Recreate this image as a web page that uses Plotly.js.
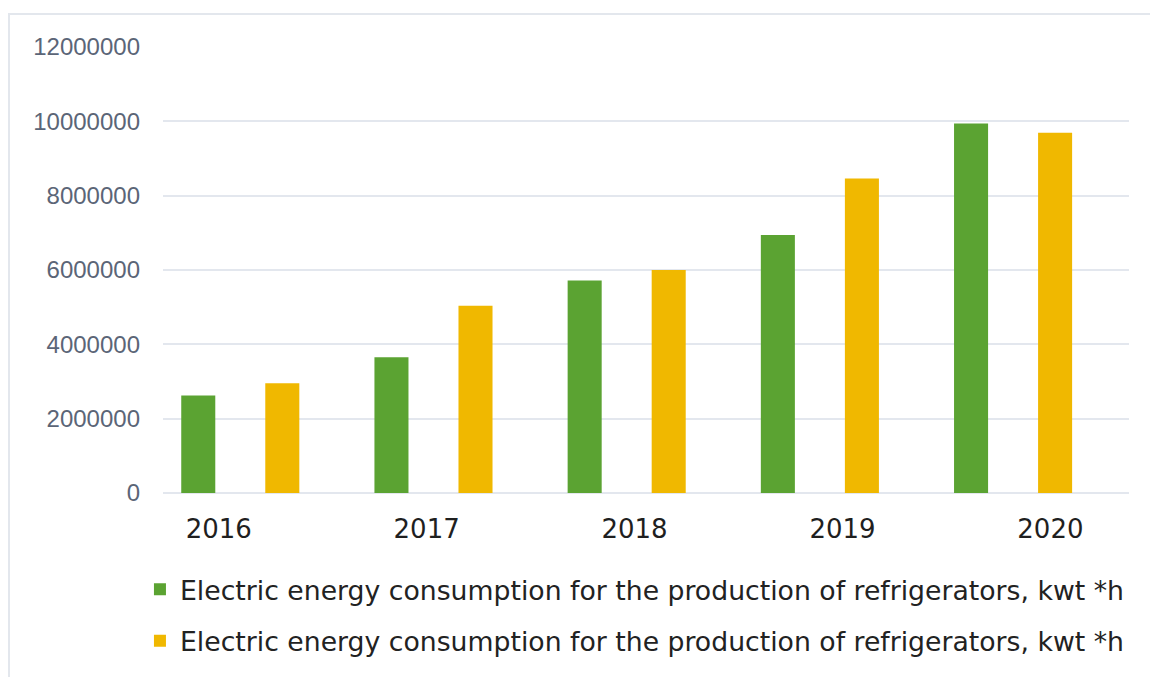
<!DOCTYPE html>
<html>
<head>
<meta charset="utf-8">
<script src="https://cdn.plot.ly/plotly-3.0.1.min.js"></script>
<style>
  html, body { margin: 0; padding: 0; background: #ffffff; }
  #wrap { position: relative; width: 1150px; height: 677px; overflow: hidden; }
  #frame { position: absolute; left: 8px; top: 13px; width: 1200px; height: 700px;
           border-left: 2px solid #e3e7ed; border-top: 2px solid #e3e7ed; pointer-events: none; }
  #chart { position: absolute; left: 0; top: 0; width: 1150px; height: 677px; }
</style>
</head>
<body>
<div id="wrap">
  <div id="chart"></div>
  <div id="frame"></div>
</div>
<script>
const years = ["2016", "2017", "2018", "2019", "2020"];
const greenValues = [2620000, 3650000, 5720000, 6940000, 9940000];
const yellowValues = [2950000, 5040000, 6000000, 8460000, 9690000];
const seriesName = "Electric energy consumption for the production of refrigerators, kwt *h";
const yTicks = [0, 2000000, 4000000, 6000000, 8000000, 10000000, 12000000];

const traces = [
  {
    type: "bar", x: years, y: greenValues, name: seriesName,
    marker: { color: "#5ba332", line: { width: 0 } },
    legendgroup: "g1", hoverinfo: "x+y"
  },
  {
    type: "bar", x: years, y: yellowValues, name: seriesName,
    marker: { color: "#f0b800", line: { width: 0 } },
    legendgroup: "g2", hoverinfo: "x+y"
  },
  {
    type: "scatter", mode: "markers", x: years, y: greenValues, xaxis: "x2",
    marker: { opacity: 0 }, showlegend: false, hoverinfo: "skip"
  }
];

const layout = {
  width: 1150, height: 677,
  paper_bgcolor: "#ffffff", plot_bgcolor: "#ffffff",
  margin: { l: 163, r: 21, t: 47, b: 184, autoexpand: false },
  barmode: "group", bargap: 0.13, bargroupgap: 0.595,
  showlegend: true,
  legend: {
    orientation: "v", xref: "container", yref: "container",
    x: 0.1217, y: 0.165, xanchor: "left", yanchor: "top",
    font: { family: "DejaVu Sans", size: 26.7, color: "#222222" },
    tracegroupgap: 14, traceorder: "grouped", bgcolor: "rgba(0,0,0,0)"
  },
  xaxis: {
    type: "category", range: [-0.4, 4.6],
    showticklabels: false, showgrid: false, zeroline: false, showline: false, ticks: ""
  },
  xaxis2: {
    type: "category", overlaying: "x", anchor: "y", side: "bottom",
    range: [-0.268, 4.378], tickangle: 0,
    showgrid: false, zeroline: false, showline: false, ticks: "",
    tickfont: { family: "DejaVu Sans", size: 26, color: "#1f1f1f" },
    ticklabelstandoff: 18
  },
  yaxis: {
    range: [0, 12000000], tickvals: yTicks,
    ticktext: yTicks.map(v => String(v)),
    showgrid: true, gridcolor: "#e3e7ee", gridwidth: 2,
    zeroline: true, zerolinecolor: "#e3e7ee", zerolinewidth: 2,
    showline: false, ticks: "",
    tickfont: { family: "Liberation Sans", size: 24, color: "#5b6577" },
    ticklabelstandoff: 22
  }
};

Plotly.newPlot("chart", traces, layout, { displayModeBar: false, staticPlot: true });
</script>
</body>
</html>
